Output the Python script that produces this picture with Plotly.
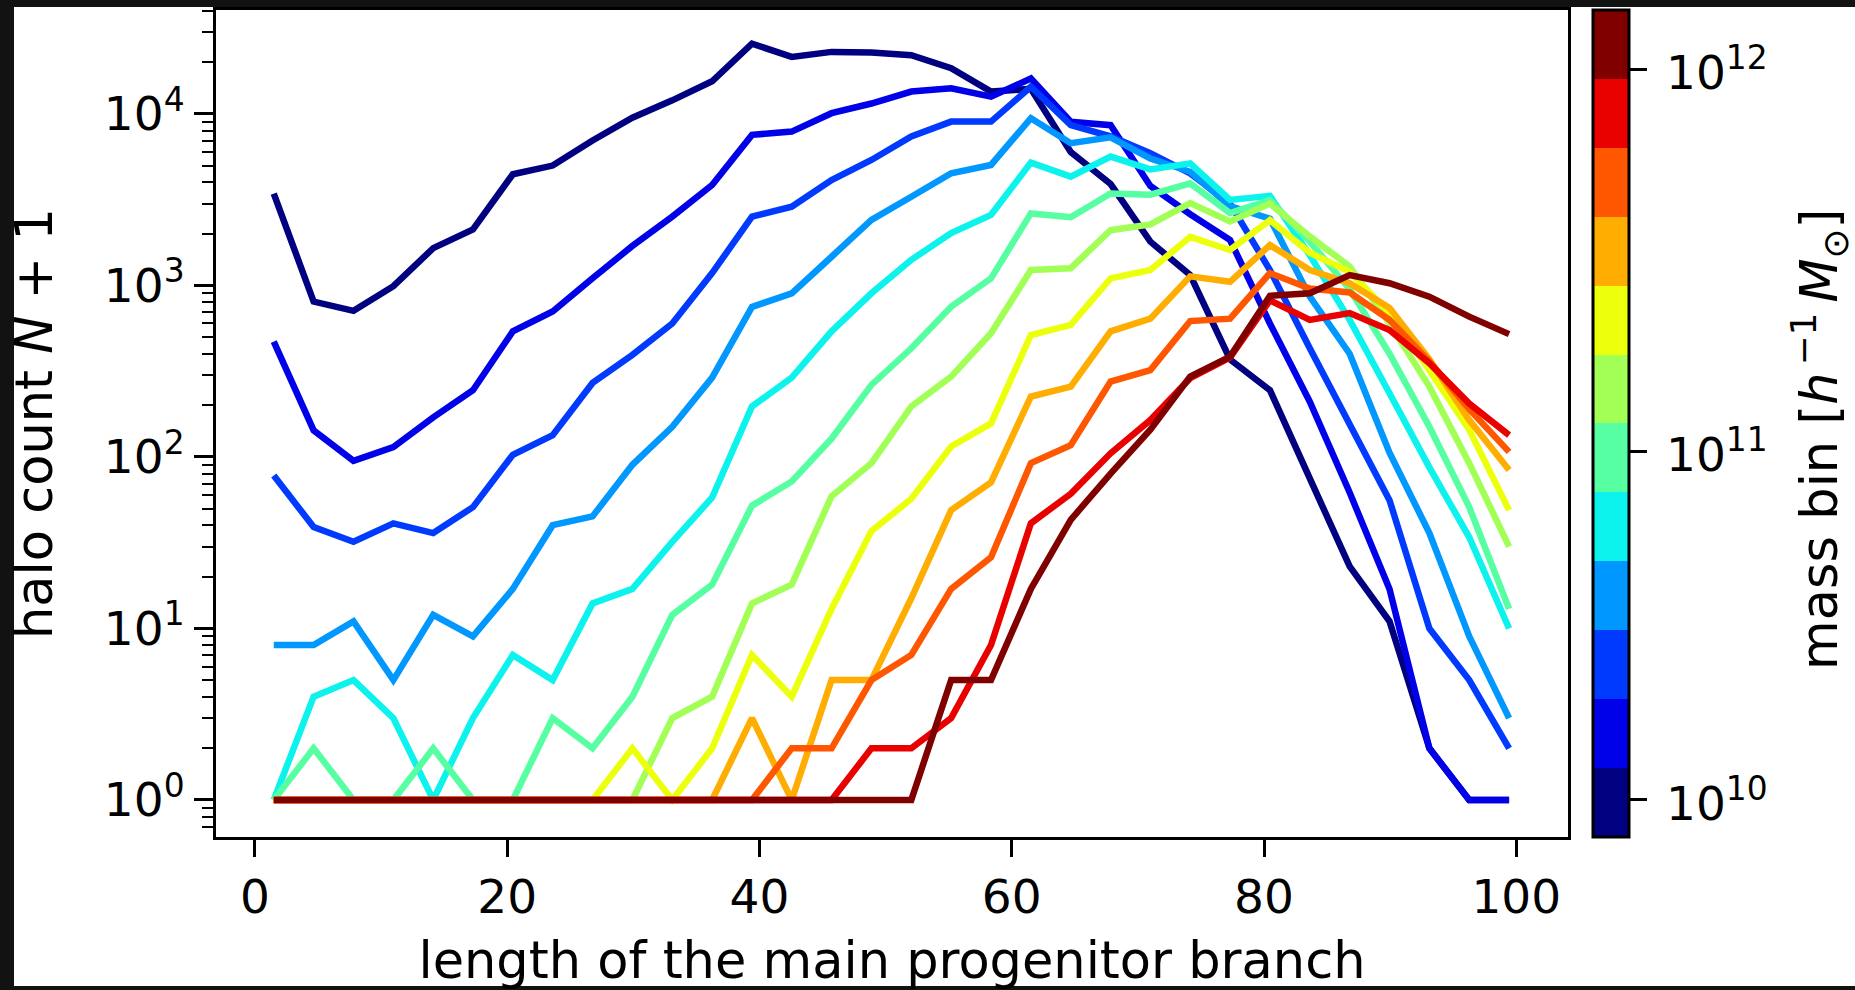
import plotly.graph_objects as go

# ---------------- data ----------------
branch_length = [1.5, 4.66, 7.82, 10.98, 14.14, 17.29, 20.45, 23.61, 26.77, 29.93,
                 33.09, 36.25, 39.41, 42.56, 45.72, 48.88, 52.04, 55.2, 58.36, 61.52,
                 64.68, 67.84, 70.99, 74.15, 77.31, 80.47, 83.63, 86.79, 89.95, 93.11,
                 96.27, 99.43]

count_bin01 = [3430, 805, 711, 990, 1650, 2120, 4450, 5000, 7000, 9500, 12000, 15500, 25700, 21500, 23000,
               22800, 22000, 18500, 13500, 14000, 6000, 3900, 1800, 1150, 370, 245, 75, 23, 11, 2, 1, 1]
count_bin02 = [470, 143, 95, 114, 170, 245, 540, 705, 1100, 1700, 2520, 3850, 7550, 7890, 10100,
               11500, 13500, 14100, 12600, 16100, 9000, 8600, 3800, 2600, 1840, 600, 210, 62, 17, 2, 1, 1]
count_bin03 = [78, 39, 32, 41, 36, 51, 103, 134, 270, 394, 600, 1180, 2520, 2880, 4120,
               5390, 7380, 9020, 9020, 14400, 8600, 7400, 5900, 4500, 3000, 1230, 430, 155, 56, 10, 5, 2]
count_bin04 = [8, 8, 11, 5, 12, 9, 17, 40, 45, 90, 150, 290, 750, 900, 1470,
               2410, 3290, 4510, 5040, 9440, 6750, 7300, 5500, 4600, 2900, 2450, 860, 400, 106, 36, 9, 3]
count_bin05 = [1, 4, 5, 3, 1, 3, 7, 5, 14, 17, 32, 58, 197, 290, 540,
               900, 1410, 2020, 2580, 5200, 4310, 5640, 4750, 5150, 3150, 3330, 1500, 630, 235, 87, 34, 10]
count_bin06 = [1, 2, 1, 1, 2, 1, 1, 3, 2, 4, 12, 18, 52, 72, 128,
               263, 430, 752, 1100, 2630, 2500, 3440, 3380, 3940, 2640, 3150, 1800, 950, 400, 150, 51, 13]
count_bin07 = [1, 1, 1, 1, 1, 1, 1, 1, 1, 1, 3, 4, 14, 18, 59,
               92, 197, 294, 527, 1230, 1260, 2100, 2270, 3020, 2360, 3000, 1930, 1290, 600, 257, 92, 30]
count_bin08 = [1, 1, 1, 1, 1, 1, 1, 1, 1, 2, 1, 2, 7, 4, 13,
               37, 57, 115, 157, 514, 589, 1100, 1230, 1920, 1610, 2400, 1550, 1200, 690, 321, 144, 49]
count_bin09 = [1, 1, 1, 1, 1, 1, 1, 1, 1, 1, 1, 1, 3, 1, 5,
               5, 15, 49, 71, 225, 257, 540, 640, 1130, 1050, 1720, 1230, 1030, 740, 370, 164, 84]
count_bin10 = [1, 1, 1, 1, 1, 1, 1, 1, 1, 1, 1, 1, 1, 2, 2,
               5, 7, 17, 26, 92, 117, 275, 321, 620, 640, 1180, 960, 910, 630, 360, 190, 107]
count_bin11 = [1, 1, 1, 1, 1, 1, 1, 1, 1, 1, 1, 1, 1, 1, 1,
               2, 2, 3, 8, 41, 61, 105, 164, 288, 380, 820, 630, 690, 550, 352, 205, 134]
count_bin12 = [1, 1, 1, 1, 1, 1, 1, 1, 1, 1, 1, 1, 1, 1, 1,
               1, 1, 5, 5, 17, 43, 80, 144, 294, 385, 870, 900, 1150, 1030, 860, 658, 520]

series = [count_bin01, count_bin02, count_bin03, count_bin04, count_bin05, count_bin06,
          count_bin07, count_bin08, count_bin09, count_bin10, count_bin11, count_bin12]

# colour bar: 12 mass bins; labelled masses sit at these positions (in bin units from the bottom)
n_mass_bins = 12
mass_tick_bin_pos = [0.54, 5.6, 11.14]
mass_tick_text = ['10<sup>10</sup>', '10<sup>11</sup>', '10<sup>12</sup>']

y_tick_vals = [1, 10, 100, 1000, 10000]
y_tick_text = ['10<sup>0</sup>', '10<sup>1</sup>', '10<sup>2</sup>', '10<sup>3</sup>', '10<sup>4</sup>']
x_tick_vals = [0, 20, 40, 60, 80, 100]

# ---------------- style ----------------
jet12 = ['#000080', '#0000e9', '#003aff', '#0097ff', '#0bf3ec', '#56ffa1',
         '#a1ff56', '#ecff0b', '#ffad00', '#ff5700', '#e90100', '#800000']
discrete_scale = []
for i, c in enumerate(jet12):
    discrete_scale.append([i / n_mass_bins, c])
    discrete_scale.append([(i + 1) / n_mass_bins, c])

FONT = 'DejaVu Sans'
FS_TICK = 47
FS_TITLE = 51

def fnt(size):
    return dict(family=FONT, size=size, color='black')

fig = go.Figure()
for i, ys in enumerate(series):
    fig.add_trace(go.Scatter(x=branch_length, y=ys, mode='lines',
                             line=dict(color=jet12[i], width=6.5),
                             showlegend=False, hoverinfo='skip'))

# plot area geometry (pixels)
L, R, T, B = 216, 1568, 10, 837
W, H = 1855, 990
pw, ph = R - L, B - T

def px_x(p):
    return (p - L) / pw

def px_y(p):
    return (B - p) / ph

fig.add_trace(go.Scatter(
    x=[None], y=[None], mode='markers', showlegend=False, hoverinfo='skip',
    marker=dict(color=[0], cmin=0, cmax=n_mass_bins,
                colorscale=discrete_scale, showscale=True,
                colorbar=dict(
                    x=px_x(1593), xanchor='left', xpad=0,
                    y=0.5, yanchor='middle', len=1, lenmode='fraction', ypad=0,
                    thickness=36, outlinewidth=3, outlinecolor='black',
                    tickvals=mass_tick_bin_pos, showticklabels=False,
                    ticks='outside', ticklen=17, tickwidth=3, tickcolor='black',
                ))))

# colour-bar tick labels and title as text annotations
for pos, txt in zip(mass_tick_bin_pos, mass_tick_text):
    fig.add_annotation(xref='paper', yref='paper', x=px_x(1664), y=pos / n_mass_bins,
                       xanchor='left', yanchor='middle', showarrow=False, text=txt,
                       font=fnt(FS_TICK))
fig.add_annotation(xref='paper', yref='paper', x=px_x(1819), y=px_y(440),
                   xanchor='center', yanchor='middle', showarrow=False, textangle=-90,
                   borderpad=0,
                   text='mass bin [<i>h</i><sup>\u2009−1</sup>\u2009<i>M</i><sub>⊙</sub>]',
                   font=fnt(FS_TITLE))

minor_vals = [v * m for m in [0.1, 1, 10, 100, 1000, 10000] for v in range(2, 10)]

fig.update_layout(
    width=W, height=H,
    margin=dict(l=L, r=W - R, t=T, b=H - B, pad=0, autoexpand=False),
    paper_bgcolor='white', plot_bgcolor='white',
    font=fnt(FS_TICK),
    showlegend=False,
)
fig.update_xaxes(
    range=[-3.08, 104.1], tickvals=x_tick_vals, ticks='outside', ticklen=17, tickwidth=3,
    tickcolor='black', showline=True, linewidth=3, linecolor='black', mirror=True,
    showgrid=False, zeroline=False, tickfont=fnt(FS_TICK), automargin=False,
    title=dict(text='length of the main progenitor branch', standoff=28, font=fnt(FS_TITLE)),
)
fig.update_yaxes(
    type='log', range=[-0.216, 4.606], tickvals=y_tick_vals, ticktext=y_tick_text,
    ticks='outside', ticklen=19, tickwidth=3, tickcolor='black', tickfont=fnt(FS_TICK),
    minor=dict(tickvals=minor_vals, ticks='outside', ticklen=11, tickwidth=2, tickcolor='black'),
    showline=True, linewidth=3, linecolor='black', mirror=True, automargin=False,
    showgrid=False, zeroline=False,
    title=dict(text='halo count <i>N</i> + 1', standoff=35, font=fnt(FS_TITLE)),
)

# dark border of the original screenshot
dark = '#121212'
for x0, x1, y0, y1 in [(-10, W + 10, -10, 7), (-10, 14, -10, H + 10), (-10, W + 10, 986, H + 10)]:
    fig.add_shape(type='rect', xref='paper', yref='paper',
                  x0=px_x(x0), x1=px_x(x1), y0=px_y(y1), y1=px_y(y0),
                  fillcolor=dark, line=dict(width=0), layer='above')

fig.write_html('out.html')
